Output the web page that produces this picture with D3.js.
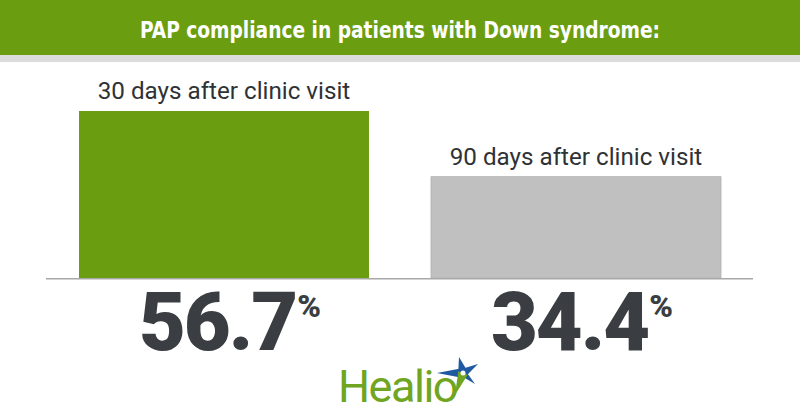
<!DOCTYPE html>
<html><head><meta charset="utf-8">
<script src="https://cdn.jsdelivr.net/npm/d3@7"></script>
<style>body{margin:0;background:#fff}svg{display:block}</style>
</head><body>
<svg id="c" width="800" height="420"></svg>
<script>
const title = "PAP compliance in patients with Down syndrome:";
const categories = ["30 days after clinic visit", "90 days after clinic visit"];
const values = [56.7, 34.4];
const valueLabels = ["56.7", "34.4"];
const colors = ["#6a9e10", "#c0c0c0"];

const svg = d3.select("#c");
// header
svg.append("rect").attr("x",0).attr("y",0).attr("width",800).attr("height",55).attr("fill","#6a9e10");
svg.append("rect").attr("x",0).attr("y",55).attr("width",800).attr("height",7).attr("fill","#dcdcdc");
svg.append("text").attr("x",400).attr("y",37.5).attr("text-anchor","middle")
  .attr("fill","#fff").attr("font-family","'DejaVu Sans Condensed','DejaVu Sans',sans-serif")
  .attr("font-stretch","condensed").attr("font-weight","bold").attr("font-size",23.5)
  .attr("textLength",520).attr("lengthAdjust","spacingAndGlyphs").text(title);

const x = d3.scaleBand().domain(categories).range([79,721]).paddingInner(62/352).paddingOuter(0);
const y = d3.scaleLinear().domain([0,56.7]).range([278,111]);

svg.append("line").attr("x1",46).attr("x2",753).attr("y1",278.8).attr("y2",278.8)
  .attr("stroke","#a8a8a8").attr("stroke-width",1.5);

const g = svg.selectAll("g.bar").data(categories).enter().append("g");
g.append("rect").attr("x",d=>x(d)).attr("width",x.bandwidth())
  .attr("y",(d,i)=>y(values[i])).attr("height",(d,i)=>y(0)-y(values[i]))
  .attr("fill",(d,i)=>colors[i]).attr("stroke",(d,i)=>i? "#b0b0b0":"none").attr("stroke-width",0.8);
g.append("text").attr("x",d=>x(d)+x.bandwidth()/2).attr("y",(d,i)=>y(values[i])-12)
  .attr("text-anchor","middle").attr("font-family","Roboto, sans-serif").attr("font-size",24.2)
  .attr("fill","#2f3235").text(d=>d);
const t = g.append("text").attr("x",d=>x(d)+x.bandwidth()/2+6).attr("y",350)
  .attr("text-anchor","middle").attr("font-family","Roboto, sans-serif").attr("font-weight",900)
  .attr("fill","#3a3e42");
t.append("tspan").attr("font-size",81).attr("letter-spacing",-2).text((d,i)=>valueLabels[i]);
t.append("tspan").attr("font-size",32).attr("dy",-33).attr("dx",1).text("%");

// Healio logo
const logo = svg.append("g");
logo.append("text").attr("x",338).attr("y",402).attr("font-family","Roboto, sans-serif")
  .attr("font-size",45).attr("fill","#6fa521").attr("letter-spacing",-1.5).text("Healio");
const cx=463, cy=373;
const arm = (tx,ty,w,col)=>{
  const dx=tx-cx, dy=ty-cy, L=Math.hypot(dx,dy), nx=-dy/L*w, ny=dx/L*w;
  logo.append("path").attr("fill",col)
    .attr("d",`M${cx+nx},${cy+ny} L${tx},${ty} L${cx-nx},${cy-ny} Z`);
};
arm(437,373,5,"#1f5aa0");
arm(459,357,5,"#1f5aa0");
arm(478,364,4.5,"#1f5aa0");
arm(475,384,3.5,"#1f5aa0");
arm(455,395,5,"#6fa521");
logo.append("circle").attr("cx",cx).attr("cy",cy).attr("r",2.5).attr("fill","#fff");
</script>
</body></html>
